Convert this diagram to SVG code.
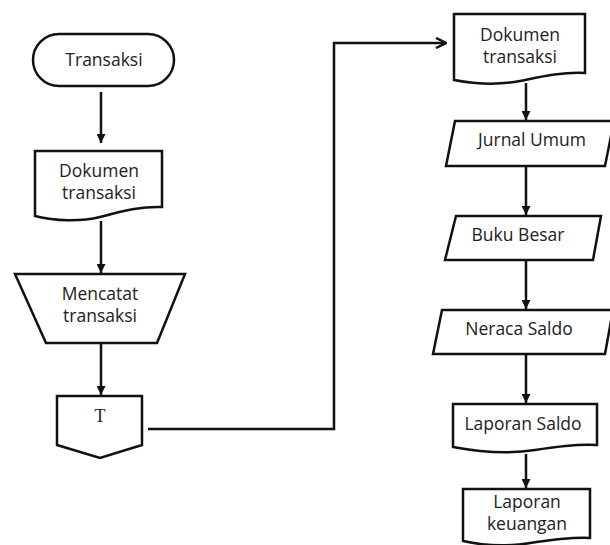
<svg xmlns="http://www.w3.org/2000/svg" width="610" height="545" viewBox="0 0 610 545">
<style>
.s{fill:#fff;stroke:#111;stroke-width:2.5;stroke-linejoin:miter}
.t{font-family:"Open Sans","Noto Sans",sans-serif;font-size:17.5px;fill:#222;text-anchor:middle}
.c{fill:none;stroke:#111;stroke-width:2.5}
</style>
<defs>
<marker id="ah" viewBox="0 0 10 10" refX="10" refY="5" markerWidth="9" markerHeight="9" markerUnits="userSpaceOnUse" orient="auto"><path d="M0,0 L10,5 L0,10 Z" fill="#111"/></marker>
<marker id="oh" viewBox="0 0 12 12" refX="11" refY="6" markerWidth="12" markerHeight="12" markerUnits="userSpaceOnUse" orient="auto"><path d="M1,1 L11,6 L1,11" fill="none" stroke="#111" stroke-width="2.5"/></marker>
</defs>
<rect width="610" height="545" fill="#fff"/>
<g id="connectors">
<line class="c" x1="101" y1="92" x2="101" y2="143" marker-end="url(#ah)"/>
<line class="c" x1="101" y1="221" x2="101" y2="273" marker-end="url(#ah)"/>
<line class="c" x1="101" y1="343" x2="101" y2="395" marker-end="url(#ah)"/>
<polyline class="c" points="148,429 334,429 334,43 446,43" marker-end="url(#oh)"/>
<line class="c" x1="526" y1="83" x2="526" y2="120" marker-end="url(#ah)"/>
<line class="c" x1="526" y1="167" x2="526" y2="215" marker-end="url(#ah)"/>
<line class="c" x1="526" y1="261" x2="526" y2="309" marker-end="url(#ah)"/>
<line class="c" x1="526" y1="355" x2="526" y2="403" marker-end="url(#ah)"/>
<line class="c" x1="526" y1="454" x2="526" y2="488" marker-end="url(#ah)"/>
</g>
<g id="n1">
<rect class="s" x="33" y="34" width="141" height="52" rx="26"/>
<text class="t" x="104" y="66">Transaksi</text>
</g>
<g id="n2">
<path class="s" d="M35,151 H162 V207 C140,206 120,212 100,217 C80,222 55,221 35,216 Z"/>
<text class="t" x="99" y="177">Dokumen</text>
<text class="t" x="99" y="199">transaksi</text>
</g>
<g id="n3">
<path class="s" d="M15,274 H185 L157,343 H46 Z"/>
<text class="t" x="100" y="300">Mencatat</text>
<text class="t" x="100" y="322">transaksi</text>
</g>
<g id="n4">
<path class="s" d="M57,396 H142 V445 L100,458 L57,445 Z"/>
<text x="100" y="422" style="font-family:'Liberation Serif',serif;font-size:18px;fill:#222;text-anchor:middle">T</text>
</g>
<g id="n5">
<path class="s" d="M454,14 H585 V73 C560,72 540,77 520,81 C500,85 475,84 454,80 Z"/>
<text class="t" x="520" y="41">Dokumen</text>
<text class="t" x="520" y="63">transaksi</text>
</g>
<g id="n6">
<path class="s" d="M455,121 H614 L605,166 H446 Z"/>
<text class="t" x="532" y="146">Jurnal Umum</text>
</g>
<g id="n7">
<path class="s" d="M456,216 H601 L593,260 H445 Z"/>
<text class="t" x="518" y="241">Buku Besar</text>
</g>
<g id="n8">
<path class="s" d="M442,310 H613 L605,354 H433 Z"/>
<text class="t" x="519" y="335">Neraca Saldo</text>
</g>
<g id="n9">
<path class="s" d="M453,404 H597 V445 C575,444 555,447 535,450 C510,454 480,452 453,447 Z"/>
<text class="t" x="523" y="430">Laporan Saldo</text>
</g>
<g id="n10">
<path class="s" d="M463,489 H590 V538 C570,537 550,540 530,543 C505,547 485,546 463,541 Z"/>
<text class="t" x="527" y="508">Laporan</text>
<text class="t" x="527" y="530">keuangan</text>
</g>
</svg>
